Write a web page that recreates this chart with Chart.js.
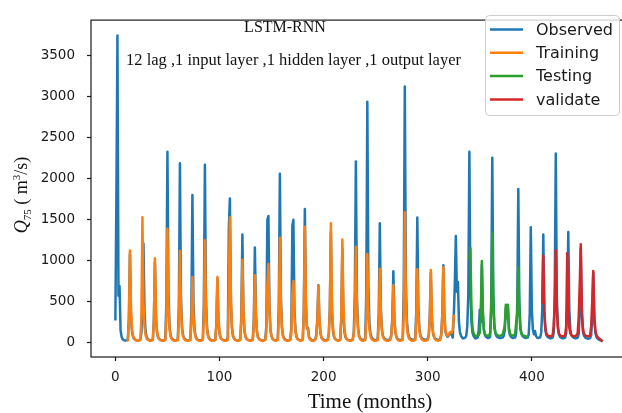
<!DOCTYPE html>
<html>
<head>
<meta charset="utf-8">
<script src="https://cdn.jsdelivr.net/npm/chart.js@4.4.1/dist/chart.umd.min.js"></script>
<style>
  html, body { margin: 0; padding: 0; background: #fff; overflow: hidden; }
  #wrap { width: 640px; height: 413px; }
</style>
</head>
<body>
<div id="wrap"><canvas id="flowChart" width="640" height="413"></canvas></div>
<script>
// ===== Data (monthly Q75, m3/s) =====
const xTicks = [0, 100, 200, 300, 400];
const yTicks = [0, 500, 1000, 1500, 2000, 2500, 3000, 3500];

// observed, month 0 .. 468 (one row = 12 months)
const observed = [
  270, 1800, 3750, 570, 690, 150, 70, 40, 30, 25, 25, 30,
  40, 300, 1080, 330, 130, 70, 45, 35, 30, 25, 25, 30,
  40, 120, 480, 1210, 360, 140, 70, 45, 35, 30, 25, 30,
  40, 280, 980, 300, 120, 65, 45, 35, 30, 25, 25, 30,
  40, 500, 2330, 620, 200, 90, 55, 40, 30, 25, 25, 30,
  40, 450, 2190, 560, 190, 90, 55, 40, 30, 25, 25, 30,
  40, 380, 1800, 480, 170, 80, 50, 35, 30, 25, 25, 30,
  40, 460, 2170, 540, 190, 85, 55, 40, 30, 25, 25, 30,
  40, 220, 780, 250, 110, 60, 45, 35, 30, 25, 25, 30,
  60, 1400, 1760, 480, 170, 80, 50, 35, 30, 25, 25, 30,
  40, 320, 1320, 380, 140, 70, 45, 35, 30, 25, 25, 30,
  40, 280, 1160, 340, 130, 65, 45, 35, 30, 25, 25, 30,
  40, 200, 1500, 1545, 420, 150, 75, 45, 35, 30, 25, 30,
  40, 450, 2060, 540, 190, 85, 55, 40, 30, 25, 25, 30,
  40, 180, 1430, 1500, 400, 150, 70, 45, 35, 30, 25, 30,
  40, 400, 1630, 460, 170, 180, 70, 45, 35, 30, 25, 30,
  40, 90, 300, 700, 260, 110, 60, 40, 35, 30, 25, 30,
  40, 100, 420, 1350, 380, 140, 70, 45, 35, 30, 25, 30,
  40, 300, 1150, 340, 130, 65, 45, 35, 30, 25, 25, 30,
  40, 120, 600, 2210, 560, 200, 90, 55, 40, 30, 30, 35,
  45, 600, 2940, 700, 240, 110, 65, 45, 35, 30, 30, 35,
  45, 360, 1455, 420, 160, 80, 55, 40, 35, 30, 30, 35,
  45, 90, 300, 870, 280, 120, 65, 45, 35, 30, 30, 35,
  45, 650, 3125, 750, 260, 120, 70, 50, 40, 35, 30, 35,
  45, 380, 1525, 440, 170, 90, 60, 45, 40, 35, 30, 35,
  45, 90, 320, 850, 280, 120, 70, 50, 40, 35, 30, 35,
  45, 100, 340, 943, 300, 130, 90, 70, 80, 100, 110, 100,
  60, 300, 700, 1300, 620, 740, 250, 120, 80, 60, 50, 55,
  60, 80, 200, 600, 2330, 650, 250, 120, 80, 60, 50, 55,
  60, 150, 400, 250, 950, 300, 150, 90, 70, 60, 55, 60,
  70, 500, 2255, 600, 220, 110, 80, 65, 60, 55, 55, 60,
  60, 80, 150, 420, 300, 430, 150, 90, 70, 60, 55, 60,
  60, 120, 450, 1875, 500, 200, 110, 80, 70, 60, 55, 60,
  60, 100, 350, 1408, 400, 160, 100, 140, 80, 60, 55, 60,
  60, 120, 400, 1320, 380, 150, 90, 70, 60, 55, 50, 55,
  60, 120, 600, 2308, 560, 200, 100, 70, 60, 55, 50, 55,
  60, 110, 420, 1350, 400, 160, 90, 70, 60, 55, 50, 55,
  60, 100, 380, 1150, 350, 140, 85, 65, 55, 50, 45, 50,
  55, 90, 300, 850, 280, 120, 70, 50, 40, 30, 25, 20,
  12
];

// training, month 11 .. 325
const trainStart = 11;
const training = [
  20,
  25, 250, 1125, 400, 160, 80, 50, 35, 25, 20, 20, 25,
  30, 300, 1530, 450, 200, 90, 50, 35, 25, 20, 20, 25,
  30, 250, 1030, 350, 140, 70, 45, 30, 25, 20, 20, 25,
  30, 320, 1390, 460, 170, 80, 45, 30, 25, 20, 20, 25,
  30, 280, 1120, 420, 160, 75, 45, 30, 25, 20, 20, 25,
  30, 220, 800, 320, 130, 65, 40, 30, 25, 20, 20, 25,
  30, 300, 1250, 450, 170, 80, 45, 30, 25, 20, 20, 25,
  30, 220, 800, 320, 130, 65, 40, 30, 25, 20, 20, 25,
  30, 700, 1530, 520, 190, 90, 50, 35, 25, 20, 20, 25,
  30, 250, 1010, 380, 150, 70, 45, 30, 25, 20, 20, 25,
  30, 220, 820, 330, 130, 65, 40, 30, 25, 20, 20, 25,
  30, 120, 700, 960, 380, 150, 75, 45, 30, 25, 20, 25,
  30, 300, 1280, 460, 170, 80, 45, 30, 25, 20, 20, 25,
  30, 100, 600, 750, 320, 130, 65, 40, 30, 25, 20, 25,
  30, 330, 1415, 500, 190, 150, 60, 35, 25, 20, 20, 25,
  30, 80, 250, 690, 280, 120, 60, 35, 25, 20, 20, 25,
  30, 100, 380, 1455, 480, 180, 80, 45, 30, 25, 20, 25,
  30, 300, 1258, 450, 170, 80, 45, 30, 25, 20, 20, 25,
  30, 100, 350, 1170, 430, 170, 80, 45, 30, 25, 20, 25,
  30, 280, 1080, 400, 160, 80, 45, 30, 25, 20, 20, 25,
  30, 240, 900, 350, 140, 70, 45, 30, 25, 20, 20, 25,
  30, 80, 250, 700, 280, 120, 60, 35, 25, 20, 20, 25,
  30, 350, 1590, 540, 200, 90, 50, 35, 25, 20, 20, 25,
  30, 240, 895, 350, 140, 70, 45, 30, 25, 20, 20, 25,
  30, 80, 280, 884, 340, 140, 70, 40, 30, 25, 20, 25,
  30, 80, 300, 920, 350, 150, 100, 80, 90, 120, 130, 120,
  150, 338
];

// testing, month 340 .. 396
const testStart = 340;
const testing = [
  1020, 1150, 420, 180, 110, 90, 80, 80,
  85, 90, 120, 350, 995, 380, 160, 100, 90, 85, 80, 85,
  120, 400, 1340, 450, 180, 120, 100, 90, 85, 80, 85, 90,
  100, 150, 200, 460, 300, 460, 180, 110, 90, 85, 85, 90,
  110, 250, 350, 913, 380, 160, 110, 90, 85, 80, 75, 70, 60
];

// validate, month 410 .. 468
const validStart = 410;
const validate = [
  470, 1060, 380, 170, 110, 90, 80, 75, 75, 80,
  90, 200, 420, 1128, 420, 180, 110, 90, 80, 75, 75, 80,
  90, 200, 1090, 450, 180, 110, 90, 80, 75, 75, 80, 90,
  110, 300, 700, 1200, 420, 180, 110, 90, 80, 75, 75, 80,
  90, 200, 500, 873, 330, 150, 90, 70, 55, 45, 35, 25, 15
];

const seriesNames = ['Observed', 'Training', 'Testing', 'validate'];
const seriesColors = ['#1f77b4', '#ff7f0e', '#2ca02c', '#d62728'];

function toPoints(values, start) {
  return values.map((v, i) => ({ x: start + i, y: v }));
}

const sansFont = '"DejaVu Sans", sans-serif';
const serifFont = '"Liberation Serif", "Times New Roman", serif';
const inkColor = '#1a1a1a';

// ===== Text, spines, legend drawn on top =====
const decorPlugin = {
  id: 'decor',
  afterDraw(chart) {
    const ctx = chart.ctx;
    const a = chart.chartArea;
    ctx.save();

    // spines
    ctx.strokeStyle = inkColor;
    ctx.lineWidth = 1.2;
    ctx.strokeRect(a.left, a.top, a.right - a.left, a.bottom - a.top);

    // annotations
    ctx.fillStyle = '#111';
    ctx.textBaseline = 'alphabetic';
    ctx.textAlign = 'center';
    ctx.font = '16px ' + serifFont;
    ctx.fillText('LSTM-RNN', 285, 32);
    ctx.textAlign = 'left';
    ctx.font = '16.5px ' + serifFont;
    ctx.fillText('12 lag ,1 input layer ,1 hidden layer ,1 output layer', 126, 65);

    // x title
    ctx.textAlign = 'center';
    ctx.font = '21px ' + serifFont;
    ctx.fillText('Time (months)', 370, 408);

    // y title  Q75 ( m3/s)
    const parts = [
      { t: 'Q', f: 'italic 18px ' + serifFont, dy: 0 },
      { t: '75', f: '11px ' + serifFont, dy: 4 },
      { t: ' ( m', f: '18px ' + serifFont, dy: 0 },
      { t: '3', f: '11px ' + serifFont, dy: -7 },
      { t: '/s)', f: '18px ' + serifFont, dy: 0 }
    ];
    let total = 0;
    parts.forEach(p => { ctx.font = p.f; p.w = ctx.measureText(p.t).width; total += p.w; });
    ctx.translate(27, 195);
    ctx.rotate(-Math.PI / 2);
    ctx.textAlign = 'left';
    let px = -total / 2;
    parts.forEach(p => {
      ctx.font = p.f;
      ctx.fillText(p.t, px, p.dy);
      px += p.w;
    });
    ctx.setTransform(1, 0, 0, 1, 0, 0);

    // legend
    const lx = 485, ly = 15, lw = 134, lh = 100;
    ctx.fillStyle = 'rgba(255,255,255,0.8)';
    ctx.strokeStyle = '#cccccc';
    ctx.lineWidth = 1;
    ctx.beginPath();
    ctx.roundRect(lx + 0.5, ly + 0.5, lw, lh, 4);
    ctx.fill();
    ctx.stroke();
    ctx.font = '16px ' + sansFont;
    ctx.textBaseline = 'middle';
    ctx.textAlign = 'left';
    seriesNames.forEach((name, i) => {
      const y = 29.5 + i * 23.3;
      ctx.strokeStyle = seriesColors[i];
      ctx.lineWidth = 2.5;
      ctx.beginPath();
      ctx.moveTo(490, y);
      ctx.lineTo(523, y);
      ctx.stroke();
      ctx.fillStyle = inkColor;
      ctx.fillText(name, 536, y + 1);
    });
    ctx.restore();
  }
};

function lineSet(i, points, order) {
  return {
    label: seriesNames[i],
    data: points,
    borderColor: seriesColors[i],
    backgroundColor: seriesColors[i],
    borderWidth: 2.5,
    borderJoinStyle: 'round',
    pointRadius: 0,
    tension: 0,
    fill: false,
    order
  };
}

new Chart(document.getElementById('flowChart'), {
  type: 'line',
  data: {
    datasets: [
      lineSet(0, toPoints(observed, 0), 4),
      lineSet(1, toPoints(training, trainStart), 3),
      lineSet(2, toPoints(testing, testStart), 2),
      lineSet(3, toPoints(validate, validStart), 1)
    ]
  },
  options: {
    responsive: false,
    animation: false,
    devicePixelRatio: 1,
    layout: { padding: { top: 8, right: 13, left: 0, bottom: 0 } },
    plugins: { legend: { display: false }, tooltip: { enabled: false } },
    scales: {
      x: {
        type: 'linear',
        min: -23.4,
        max: 491.4,
        afterBuildTicks: s => { s.ticks = xTicks.map(v => ({ value: v })); },
        afterFit: s => { s.height = 56; },
        grid: { drawOnChartArea: false, drawTicks: true, tickLength: 4, color: inkColor, tickWidth: 1.2 },
        border: { display: false },
        ticks: { color: inkColor, font: { family: sansFont, size: 13.5 }, padding: 8, maxRotation: 0,
                 callback: v => String(v) }
      },
      y: {
        type: 'linear',
        min: -177,
        max: 3937,
        afterBuildTicks: s => { s.ticks = yTicks.map(v => ({ value: v })); },
        afterFit: s => { s.width = 91; },
        grid: { drawOnChartArea: false, drawTicks: true, tickLength: 4, color: inkColor, tickWidth: 1.2 },
        border: { display: false },
        ticks: { color: inkColor, font: { family: sansFont, size: 13.5 }, padding: 12,
                 callback: v => String(v) }
      }
    }
  },
  plugins: [decorPlugin]
});
</script>
</body>
</html>
